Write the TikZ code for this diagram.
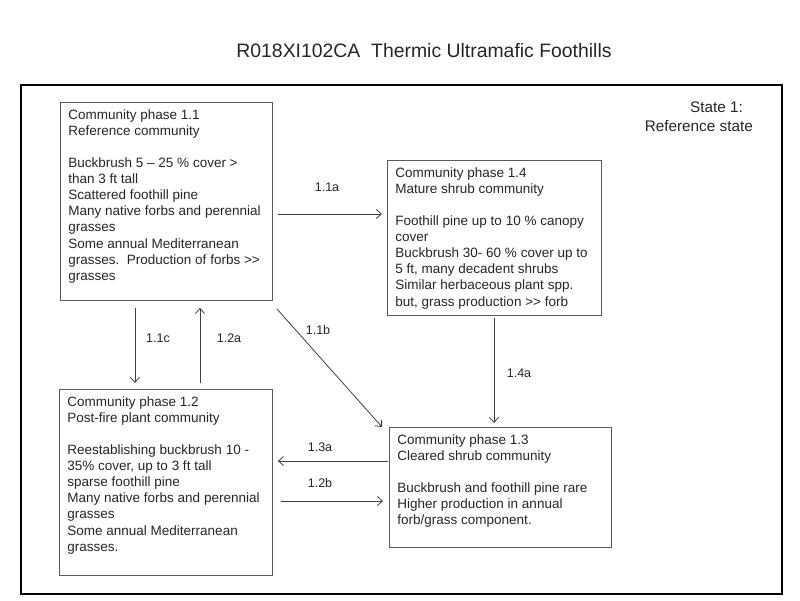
\documentclass[tikz,border=0pt]{standalone}
\usepackage{fontspec}
\setmainfont{Liberation Sans}
\usetikzlibrary{arrows.meta,calc}
\definecolor{txt}{HTML}{262626}
\definecolor{boxline}{HTML}{5A5A5A}
\definecolor{arrline}{HTML}{404040}
\tikzset{
  phasebox/.style={draw=boxline, line width=0.9pt, anchor=north west, inner xsep=8pt, inner ysep=7pt, text=txt, font=\fontsize{13.5}{16.1}\selectfont, align=left},
  arr/.style={draw=arrline, line width=0.8pt, -{Straight Barb[length=5pt,width=9pt,line width=0.8pt]}},
  lbl/.style={text=txt, font=\fontsize{12.5}{14}\selectfont, inner sep=0pt},
  statelbl/.style={text=txt, font=\fontsize{15.3}{18}\selectfont, inner sep=0pt, anchor=base east},
}
\newcommand{\phasetext}[3]{\begin{minipage}[t][#2][t]{#1}#3\end{minipage}}
\newcommand{\gtgt}{>{}>}
\begin{document}
\begin{tikzpicture}[x=1pt,y=-1pt]
\useasboundingbox (0,0) rectangle (800,600);
\fill[white] (0,0) rectangle (800,600);
\node[text=txt, font=\fontsize{19.4}{22}\selectfont, inner sep=0pt, anchor=base] (title) at (424,57) {R018XI102CA\ \ Thermic Ultramafic Foothills};
\node[draw=black, line width=1.8pt, minimum width=761pt, minimum height=509pt, anchor=north west, inner sep=0pt] (frame) at (20,84) {};
\node[statelbl] (state1) at (743,112) {State 1:};
\node[statelbl] (state2) at (753,131) {Reference state};

\node[phasebox] (b11) at (60,102) {\phasetext{196pt}{184pt}{Community phase 1.1\\Reference community\\[16.1pt]Buckbrush 5 -- 25 \% cover >\\than 3 ft tall\\Scattered foothill pine\\Many native forbs and perennial\\grasses\\Some annual Mediterranean\\grasses.\ \ Production of forbs \gtgt\\grasses}};
\node[phasebox] (b14) at (387,160) {\phasetext{198pt}{141pt}{Community phase 1.4\\Mature shrub community\\[16.1pt]Foothill pine up to 10 \% canopy\\cover\\Buckbrush 30- 60 \% cover up to\\5 ft, many decadent shrubs\\Similar herbaceous plant spp.\\but, grass production \gtgt{} forb}};
\node[phasebox] (b12) at (59,389) {\phasetext{197pt}{172pt}{Community phase 1.2\\Post-fire plant community\\[16.1pt]Reestablishing buckbrush 10 -\\35\% cover, up to 3 ft tall\\sparse foothill pine\\Many native forbs and perennial\\grasses\\Some annual Mediterranean\\grasses.}};
\node[phasebox] (b13) at (389,427) {\phasetext{206pt}{106pt}{Community phase 1.3\\Cleared shrub community\\[16.1pt]Buckbrush and foothill pine rare\\Higher production in annual\\forb/grass component.}};

% 1.1a
\draw[arr] ($(b11.north east)+(5,112)$) -- ($(b14.north west)+(-5,54)$);
\node[lbl] (l11a) at (327,187) {1.1a};
% 1.1c
\draw[arr] ($(b11.south west)+(75,7)$) -- ($(b12.north west)+(76,-6)$);
\node[lbl] (l11c) at (158,338) {1.1c};
% 1.2a
\draw[arr] ($(b12.north west)+(141,-6)$) -- ($(b11.south west)+(140,7)$);
\node[lbl] (l12a) at (229,338) {1.2a};
% 1.1b
\draw[arr] ($(b11.south east)+(4,8)$) -- ($(b13.north west)+(-7,0)$);
\node[lbl] (l11b) at (318,330) {1.1b};
% 1.3a
\draw[arr] ($(b13.north west)+(-1,34)$) -- ($(b12.north east)+(5,72)$);
\node[lbl] (l13a) at (320,447) {1.3a};
% 1.2b
\draw[arr] ($(b12.north east)+(8,112)$) -- ($(b13.north west)+(-6,74)$);
\node[lbl] (l12b) at (320,483) {1.2b};
% 1.4a
\draw[arr] ($(b14.south west)+(107,2)$) -- ($(b13.north west)+(105,-4)$);
\node[lbl] (l14a) at (519,373) {1.4a};
\end{tikzpicture}
\end{document}
